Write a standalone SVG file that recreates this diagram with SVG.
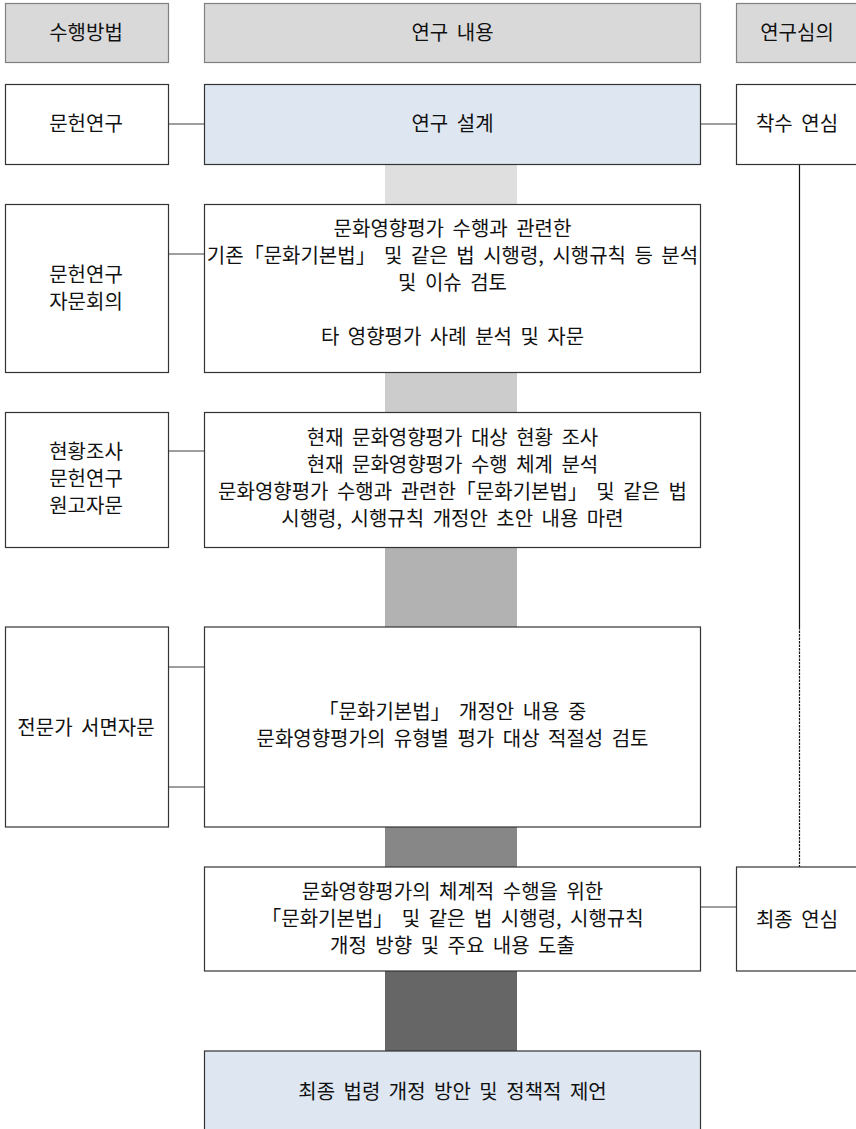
<svg xmlns="http://www.w3.org/2000/svg" width="856" height="1129" viewBox="0 0 856 1129">
<style>
.hdr{fill:#D9D9D9;stroke:#808080;stroke-width:1.2}
.box{fill:#FFFFFF;stroke:#333333;stroke-width:1.2}
.blue{fill:#DEE7F1;stroke:#333333;stroke-width:1.2}
.t{font-family:"Noto Sans CJK KR","Noto Sans",sans-serif;font-size:20px;word-spacing:4px;fill:#111111;text-anchor:middle}
.c{stroke:#404040;stroke-width:1.2;fill:none}
</style>
<rect width="856" height="1129" fill="#FFFFFF"/>
<g id="bar">
<rect x="385" y="164" width="132" height="41" fill="#DFDFDF"/>
<rect x="385" y="372" width="132" height="41" fill="#CCCCCC"/>
<rect x="385" y="547" width="132" height="80" fill="#B2B2B2"/>
<rect x="385" y="827" width="132" height="40" fill="#878787"/>
<rect x="385" y="971" width="132" height="80" fill="#666666"/>
</g>
<g id="connectors">
<line class="c" x1="168.5" y1="124" x2="204.5" y2="124" stroke="#777777"/>
<line class="c" x1="700.5" y1="124" x2="736.5" y2="124"/>
<line class="c" x1="168.5" y1="254" x2="204.5" y2="254"/>
<line class="c" x1="168.5" y1="451" x2="204.5" y2="451"/>
<line class="c" x1="168.5" y1="667" x2="204.5" y2="667"/>
<line class="c" x1="168.5" y1="787" x2="204.5" y2="787"/>
<line class="c" x1="700.5" y1="907" x2="736.5" y2="907"/>
<line x1="799.5" y1="164.5" x2="799.5" y2="627" stroke="#111111" stroke-width="1.2"/>
<line x1="799.5" y1="627" x2="799.5" y2="867" stroke="#111111" stroke-width="1.2" stroke-dasharray="2.5 1"/>
</g>
<g id="hdr-method"><rect class="hdr" x="5.5" y="3.5" width="163" height="59"/><text class="t" x="86" y="40">수행방법</text></g>
<g id="hdr-content"><rect class="hdr" x="204.5" y="3.5" width="496" height="59"/><text class="t" x="452.5" y="40">연구 내용</text></g>
<g id="hdr-review"><rect class="hdr" x="736.5" y="3.5" width="125" height="59"/><text class="t" x="797" y="40">연구심의</text></g>
<g id="m1"><rect class="box" x="5.5" y="84.5" width="163" height="80"/><text class="t" x="86" y="131">문헌연구</text></g>
<g id="c1"><rect class="blue" x="204.5" y="84.5" width="496" height="80"/><text class="t" x="452.5" y="131">연구 설계</text></g>
<g id="r1"><rect class="box" x="736.5" y="84.5" width="125" height="80"/><text class="t" x="797" y="131">착수 연심</text></g>
<g id="m2"><rect class="box" x="5.5" y="204.5" width="163" height="168"/><text class="t" x="86" y="282">문헌연구</text><text class="t" x="86" y="309">자문회의</text></g>
<g id="c2"><rect class="box" x="204.5" y="204.5" width="496" height="168"/>
<text class="t" x="452.5" y="236">문화영향평가 수행과 관련한</text>
<text class="t" x="452.5" y="263">기존「문화기본법」 및 같은 법 시행령, 시행규칙 등 분석</text>
<text class="t" x="452.5" y="290">및 이슈 검토</text>
<text class="t" x="452.5" y="344">타 영향평가 사례 분석 및 자문</text></g>
<g id="m3"><rect class="box" x="5.5" y="412.5" width="163" height="135"/><text class="t" x="86" y="459">현황조사</text><text class="t" x="86" y="486">문헌연구</text><text class="t" x="86" y="513">원고자문</text></g>
<g id="c3"><rect class="box" x="204.5" y="412.5" width="496" height="135"/>
<text class="t" x="452.5" y="445">현재 문화영향평가 대상 현황 조사</text>
<text class="t" x="452.5" y="472">현재 문화영향평가 수행 체계 분석</text>
<text class="t" x="452.5" y="499">문화영향평가 수행과 관련한「문화기본법」 및 같은 법</text>
<text class="t" x="452.5" y="526">시행령, 시행규칙 개정안 초안 내용 마련</text></g>
<g id="m4"><rect class="box" x="5.5" y="627" width="163" height="200"/><text class="t" x="86" y="735">전문가 서면자문</text></g>
<g id="c4"><rect class="box" x="204.5" y="627" width="496" height="200"/>
<text class="t" x="452.5" y="719">「문화기본법」 개정안 내용 중</text>
<text class="t" x="452.5" y="746">문화영향평가의 유형별 평가 대상 적절성 검토</text></g>
<g id="c5"><rect class="box" x="204.5" y="867" width="496" height="104"/>
<text class="t" x="452.5" y="899">문화영향평가의 체계적 수행을 위한</text>
<text class="t" x="452.5" y="926">「문화기본법」 및 같은 법 시행령, 시행규칙</text>
<text class="t" x="452.5" y="953">개정 방향 및 주요 내용 도출</text></g>
<g id="r5"><rect class="box" x="736.5" y="867" width="125" height="104"/><text class="t" x="797" y="927">최종 연심</text></g>
<g id="c6"><rect class="blue" x="204.5" y="1051" width="496" height="90"/><text class="t" x="452.5" y="1099">최종 법령 개정 방안 및 정책적 제언</text></g>
</svg>
